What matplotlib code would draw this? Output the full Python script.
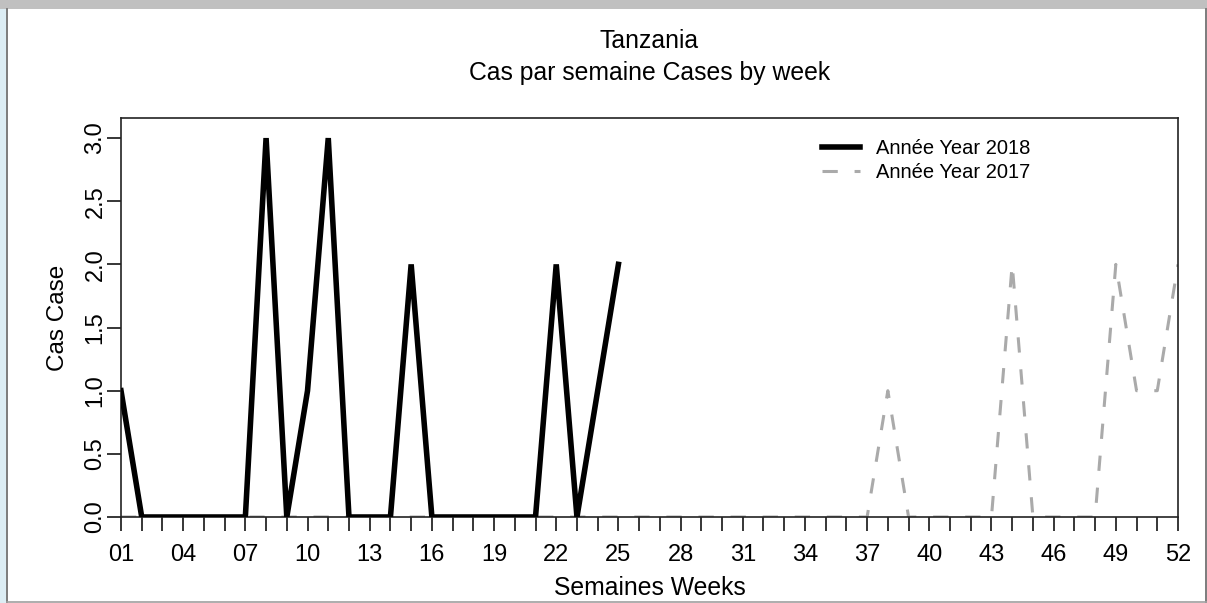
import numpy as np
import matplotlib
matplotlib.use("Agg")
import matplotlib.pyplot as plt
from matplotlib.patches import Rectangle
from matplotlib.lines import Line2D

plt.rcParams['font.family'] = ['Liberation Sans', 'DejaVu Sans']

# weekly case counts
weeks_2018 = list(range(1, 26))
cases_2018 = [1, 0, 0, 0, 0, 0, 0, 3, 0, 1, 3, 0, 0, 0, 2, 0, 0, 0, 0, 0, 0, 2, 0, 1, 2]

weeks_2017 = list(range(1, 53))
cases_2017 = [0] * 37 + [1, 0, 0, 0, 0, 0, 2, 0, 0, 0, 0, 2, 1, 1, 2]

labelled_weeks = list(range(1, 53, 3))
y_ticks = [0.0, 0.5, 1.0, 1.5, 2.0, 2.5, 3.0]

W, H = 1207, 603
fig = plt.figure(figsize=(W / 100, H / 100), dpi=100)

# window-like border around the plot
fig.patches.append(Rectangle((0, 1 - 9 / H), 1, 9 / H, transform=fig.transFigure,
                             facecolor="#c0c0c0", edgecolor="none"))
fig.patches.append(Rectangle((0, 0), 6 / W, 1 - 9 / H, transform=fig.transFigure,
                             facecolor="#dcedf4", edgecolor="none"))
fig.lines.append(Line2D([7 / W, 7 / W], [0, 1 - 9 / H], transform=fig.transFigure,
                        color="#666666", lw=1.2))
fig.lines.append(Line2D([1206 / W, 1206 / W], [0, 1 - 9 / H], transform=fig.transFigure,
                        color="#666666", lw=1.2))
fig.lines.append(Line2D([7 / W, 1], [1.5 / H, 1.5 / H], transform=fig.transFigure,
                        color="#a0a0a0", lw=1.2))

left, right, top, bottom = 121, 1178, 118.5, 517
ax = fig.add_axes([left / W, 1 - bottom / H, (right - left) / W, (bottom - top) / H])

ax.plot(weeks_2017, cases_2017, color="#aaaaaa", lw=2.2, linestyle=(0, (5, 5.5)),
        label="Année Year 2017", zorder=2)
ax.plot(weeks_2018, cases_2018, color="black", lw=4.0, label="Année Year 2018",
        solid_joinstyle="miter", zorder=3)

ax.set_xlim(1, 52)
ax.set_ylim(0, 3.155)

ax.set_xticks(weeks_2017)
ax.set_xticklabels([f"{w:02d}" if w in labelled_weeks else "" for w in weeks_2017])
ax.set_yticks(y_ticks)
ax.set_yticklabels([f"{v:.1f}" for v in y_ticks], rotation=90, va="center")

ax.tick_params(axis="x", length=10, width=1.1, pad=9.5, labelsize=17)
ax.tick_params(axis="y", length=10, width=1.1, pad=0.5, labelsize=17)
for sp in ax.spines.values():
    sp.set_linewidth(1.2)
    sp.set_color("#222222")

ax.set_xlabel("Semaines Weeks", fontsize=17.8)
ax.xaxis.label.set_va("baseline")
ax.xaxis.set_label_coords(0.5, (bottom - 595) / (bottom - top))
ax.set_ylabel("Cas Case", fontsize=17.5)
ax.yaxis.label.set_va("baseline")
ax.yaxis.set_label_coords((64 - left) / (right - left), 0.5)

fig.text((left + right) / 2 / W, 1 - 48 / H, "Tanzania", ha="center", va="baseline",
         fontsize=17.8)
fig.text((left + right) / 2 / W, 1 - 80 / H, "Cas par semaine Cases by week",
         ha="center", va="baseline", fontsize=17.8)

handles, labels = ax.get_legend_handles_labels()
ax.legend(handles[::-1], labels[::-1], loc="upper left", frameon=False,
          bbox_to_anchor=(822 / W, 1 - 139 / H), bbox_transform=fig.transFigure,
          fontsize=14.5, handlelength=1.9, handletextpad=0.8, borderpad=0,
          borderaxespad=0, labelspacing=0.25)

fig.savefig("out.png", dpi=100)
